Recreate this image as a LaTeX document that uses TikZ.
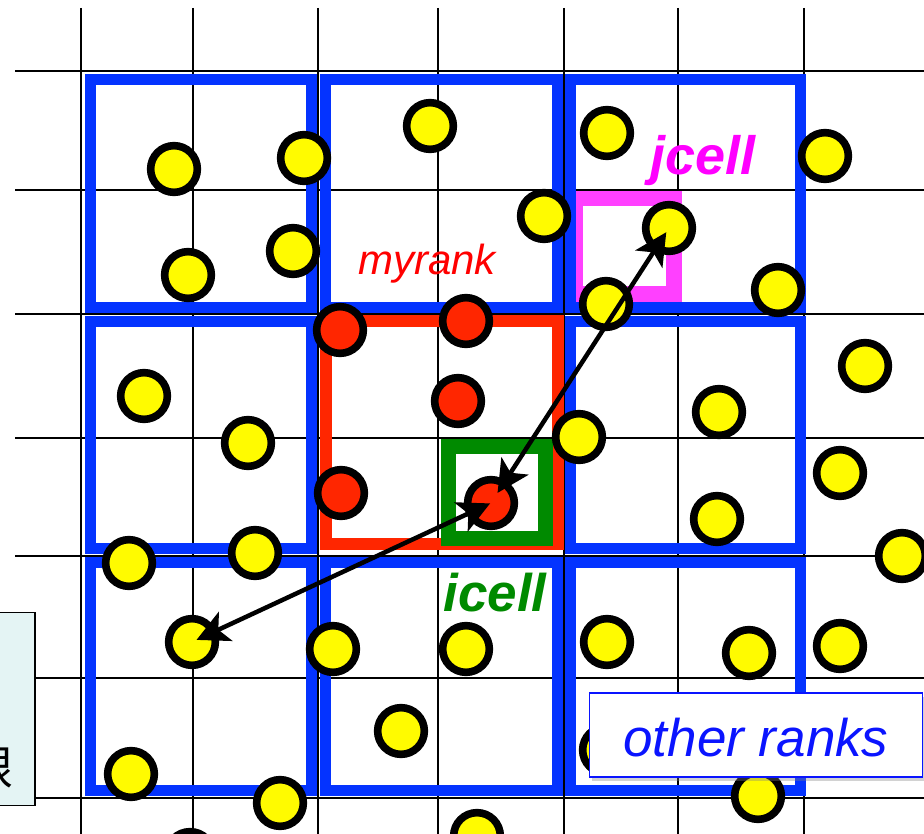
\documentclass[tikz,border=0pt]{standalone}
\usepackage{fontspec}
\newfontfamily\arial{Liberation Sans}
\newfontfamily\cjkfont{Noto Sans CJK JP}
\usetikzlibrary{arrows.meta,shadows}
\definecolor{gblue}{HTML}{0433FF}
\definecolor{pred}{HTML}{FF2600}
\definecolor{pgreen}{HTML}{008A00}
\definecolor{pmagbox}{HTML}{FF40FF}
\definecolor{pmag}{HTML}{FF00FF}
\definecolor{pyellow}{HTML}{FFFB00}
\definecolor{tblue}{HTML}{0A14FF}
\definecolor{pcyan}{HTML}{E4F4F4}
\tikzset{ptip/.tip={Stealth[length=32pt,width=32pt,inset=8pt]}}
\begin{document}
\begin{tikzpicture}[x=1pt,y=-1pt,
  gridline/.style={line width=2pt, black},
  rankbox/.style={draw=gblue, line width=11pt},
  ycirc/.style={circle, draw=black, line width=7.6pt, fill=pyellow, minimum size=46.7pt, inner sep=0pt},
  rcirc/.style={ycirc, fill=pred},
  arr/.style={draw=black, line width=4.5pt, ptip-ptip},
  lbl/.style={anchor=base, inner sep=0pt}
  ]
\useasboundingbox (0,0) rectangle (924,834);
\clip (0,0) rectangle (924,834);
\fill[white] (0,0) rectangle (924,834);
% grid
\foreach \x in {80.5,192.5,317.5,437.5,563.5,677.5,803.5,924.5}
  \draw[gridline] (\x,8) -- (\x,840);
\foreach \y in {71.5,190.5,314,437.5,556,678,798}
  \draw[gridline] (15,\y) -- (930,\y);
% jcell box
\draw[pmagbox, line width=15.5pt] (575.5,198.5) rectangle (674,294);
% rank boxes
\draw[rankbox] (90.5,79.5) rectangle (311.5,307.5);
\draw[rankbox] (325.5,79.5) rectangle (557,307.5);
\draw[rankbox] (570.5,79.5) rectangle (800.5,307.5);
\draw[rankbox] (90.5,321.5) rectangle (311.5,548.5);
\draw[rankbox] (570.5,321.5) rectangle (800.5,548.5);
\draw[rankbox] (90.5,562) rectangle (311.5,790.5);
\draw[rankbox] (325.5,562) rectangle (557,790.5);
\draw[rankbox] (570.5,562) rectangle (800.5,790.5);
% myrank box
\draw[pred, line width=12pt] (325.5,321) rectangle (558,544);
% icell box
\draw[pgreen, line width=15pt] (448,446) rectangle (545.5,538.5);
% particles
\node[ycirc] (p1) at (174,169) {};
\node[ycirc] (p2) at (304,158) {};
\node[ycirc] (p3) at (293,251) {};
\node[ycirc] (p4) at (188,275) {};
\node[ycirc] (p5) at (430,126) {};
\node[ycirc] (p6) at (544,216) {};
\node[ycirc] (p7) at (607,133) {};
\node[ycirc] (p8) at (825,156) {};
\node[ycirc] (jc) at (669,228) {};
\node[ycirc] (p10) at (778,290) {};
\node[ycirc] (p11) at (606,304) {};
\node[ycirc] (p12) at (865,366) {};
\node[ycirc] (p13) at (719,412) {};
\node[ycirc] (p14) at (579,437) {};
\node[ycirc] (p15) at (840,473) {};
\node[ycirc] (p16) at (717,519) {};
\node[ycirc] (p17) at (902,556) {};
\node[ycirc] (p18) at (144,396) {};
\node[ycirc] (p19) at (248,443) {};
\node[ycirc] (p20) at (129,563) {};
\node[ycirc] (p21) at (255,553) {};
\node[ycirc] (p22) at (192,642) {};
\node[ycirc] (p23) at (333,649) {};
\node[ycirc] (p24) at (466,649) {};
\node[ycirc] (p25) at (401,731) {};
\node[ycirc] (p26) at (131,774) {};
\node[ycirc] (p27) at (280,803) {};
\node[ycirc] (p28) at (190,855) {};
\node[ycirc] (p29) at (477,836) {};
\node[ycirc] (p30) at (607,642) {};
\node[ycirc] (p31) at (749,653) {};
\node[ycirc] (p32) at (840,646) {};
\node[ycirc] (p33) at (606,750) {};
\node[ycirc] (p34) at (758,796) {};
\node[rcirc] (r1) at (340,330) {};
\node[rcirc] (r2) at (466,321) {};
\node[rcirc] (r3) at (458,401) {};
\node[rcirc] (r4) at (341,493) {};
\node[rcirc] (ic) at (491,503) {};
% labels
\node[lbl, text=red, font=\arial\itshape\fontsize{42}{42}\selectfont] (lmy) at (427,275) {myrank};
\node[lbl, text=pmag, font=\arial\bfseries\itshape\fontsize{54}{54}\selectfont] (ljc) at (703,175) {jcell};
\node[lbl, text=pgreen, font=\arial\bfseries\itshape\fontsize{53}{53}\selectfont] (lic) at (495,611) {icell};
% arrows
\draw[arr, shorten <=12pt, shorten >=5pt] (ic.center) -- (jc.center);
\draw[arr, shorten <=1pt, shorten >=5pt] (ic.center) -- (p22.center);
% other ranks
\node[draw=tblue, line width=1.3pt, fill=white, minimum width=333.5pt, minimum height=84pt, inner sep=0pt,
  text height=42pt, text depth=0pt, text=tblue, font=\arial\itshape\fontsize{53}{53}\selectfont,
  drop shadow={shadow xshift=3pt, shadow yshift=-4pt, opacity=0.35}] (oth) at (756,735) {other ranks};
% side box
\node[draw=black, line width=1.2pt, fill=pcyan, minimum width=170pt, minimum height=193.5pt, inner sep=0pt] (side) at (-50,709) {};
\node[anchor=east, inner sep=0pt, font=\cjkfont\fontsize{46}{46}\selectfont] (sidetxt) at (14,768) {限};
\end{tikzpicture}
\end{document}
